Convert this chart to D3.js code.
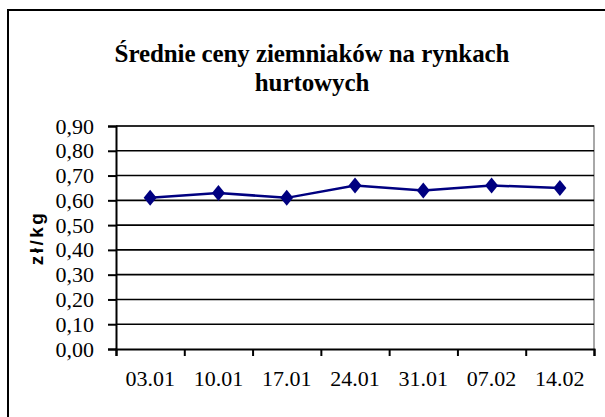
<!DOCTYPE html>
<html>
<head>
<meta charset="utf-8">
<script src="https://cdn.jsdelivr.net/npm/d3@7"></script>
<style>
  body { margin: 0; background: #fff; }
  svg { display: block; }
</style>
</head>
<body>
<div id="chart"></div>
<script>
// data
var dates = ["03.01", "10.01", "17.01", "24.01", "31.01", "07.02", "14.02"];
var prices = [0.61, 0.63, 0.61, 0.66, 0.64, 0.66, 0.65];
var yTicks = [0, 0.1, 0.2, 0.3, 0.4, 0.5, 0.6, 0.7, 0.8, 0.9];
var titleLines = ["Średnie ceny ziemniaków na rynkach", "hurtowych"];

var svgWidth = 605;
var svgHeight = 417;

var margin = { top: 126, bottom: 68, right: 11, left: 116 };
var width = svgWidth - margin.left - margin.right;
var height = svgHeight - margin.top - margin.bottom;

var serif = "'Liberation Serif', 'Times New Roman', serif";

var svg = d3.select("#chart")
  .append("svg")
  .attr("width", svgWidth)
  .attr("height", svgHeight);

// outer chart frame (runs off the right and bottom of the picture)
svg.append("rect")
  .attr("x", 9)
  .attr("y", 11)
  .attr("width", 640)
  .attr("height", 460)
  .attr("fill", "none")
  .attr("stroke", "#ddd")
  .attr("stroke-width", 3);
svg.append("rect")
  .attr("x", 8)
  .attr("y", 10)
  .attr("width", 640)
  .attr("height", 460)
  .attr("fill", "#fff")
  .attr("stroke", "#000")
  .attr("stroke-width", 2);

// title
svg.append("text")
  .attr("x", 312)
  .attr("y", 62)
  .attr("text-anchor", "middle")
  .style("font-family", serif)
  .style("font-weight", "bold")
  .style("font-size", "25px")
  .style("letter-spacing", "-0.1px")
  .selectAll("tspan")
  .data(titleLines)
  .enter()
  .append("tspan")
  .attr("x", 312)
  .attr("dy", (d, i) => i === 0 ? 0 : 29)
  .text(d => d);

var chartGroup = svg.append("g")
  .attr("transform", `translate(${margin.left}, ${margin.top})`);

var xScale = d3.scaleBand()
  .domain(dates)
  .range([0, width]);

var yScale = d3.scaleLinear()
  .domain([0, 0.9])
  .range([height, 0]);

// plot area border (grey top and right)
chartGroup.append("path")
  .attr("d", `M0,${yScale(0.9)}H${width}V${height}`)
  .attr("fill", "none")
  .attr("stroke", "#8c8c8c")
  .attr("stroke-width", 1.5);

// gridlines
chartGroup.selectAll(".grid")
  .data(yTicks.filter(d => d > 0))
  .enter()
  .append("line")
  .attr("class", "grid")
  .attr("x1", 0)
  .attr("x2", width)
  .attr("y1", d => yScale(d))
  .attr("y2", d => yScale(d))
  .attr("stroke", "#000")
  .attr("stroke-width", 1.6);

// axes
var fmt = d => d3.format(".2f")(d).replace(".", ",");
var yAxis = d3.axisLeft(yScale)
  .tickValues(yTicks)
  .tickFormat(fmt)
  .tickSize(8)
  .tickPadding(14);

var yAxisG = chartGroup.append("g").call(yAxis);

var xAxis = d3.axisBottom(d3.scaleLinear().domain([0, dates.length]).range([0, width]))
  .tickValues(d3.range(dates.length + 1))
  .tickFormat("")
  .tickSize(7);

var xAxisG = chartGroup.append("g")
  .attr("transform", `translate(0, ${height})`)
  .call(xAxis);

// category labels centred in each band
chartGroup.append("g")
  .selectAll("text")
  .data(dates)
  .enter()
  .append("text")
  .attr("x", d => xScale(d) + xScale.bandwidth() / 2)
  .attr("y", height + 37)
  .attr("text-anchor", "middle")
  .style("font-family", serif)
  .style("font-size", "22px")
  .attr("fill", "#000")
  .text(d => d);

[yAxisG, xAxisG].forEach(function(g) {
  g.select(".domain").attr("stroke", "#000").attr("stroke-width", 2);
  g.selectAll(".tick line").attr("stroke", "#000").attr("stroke-width", 2);
});
yAxisG.selectAll(".tick text")
  .style("font-family", serif)
  .style("font-size", "22px")
  .attr("fill", "#000");

// y axis title
svg.append("text")
  .attr("transform", "translate(43, 238) rotate(-90)")
  .attr("text-anchor", "middle")
  .style("font-family", "'Liberation Sans', Arial, sans-serif")
  .style("font-weight", "bold")
  .style("font-size", "19px")
  .style("letter-spacing", "2.5px")
  .text("zł/kg");

// series line
var line = d3.line()
  .x((d, i) => xScale(dates[i]) + xScale.bandwidth() / 2)
  .y(d => yScale(d));

chartGroup.append("path")
  .datum(prices)
  .attr("d", line)
  .attr("fill", "none")
  .attr("stroke", "#000080")
  .attr("stroke-width", 2.5);

// diamond markers
chartGroup.selectAll(".marker")
  .data(prices)
  .enter()
  .append("path")
  .attr("class", "marker")
  .attr("transform", (d, i) => `translate(${xScale(dates[i]) + xScale.bandwidth() / 2}, ${yScale(d)})`)
  .attr("d", "M0,-8L6.5,0L0,8L-6.5,0Z")
  .attr("fill", "#000080");
</script>
</body>
</html>
